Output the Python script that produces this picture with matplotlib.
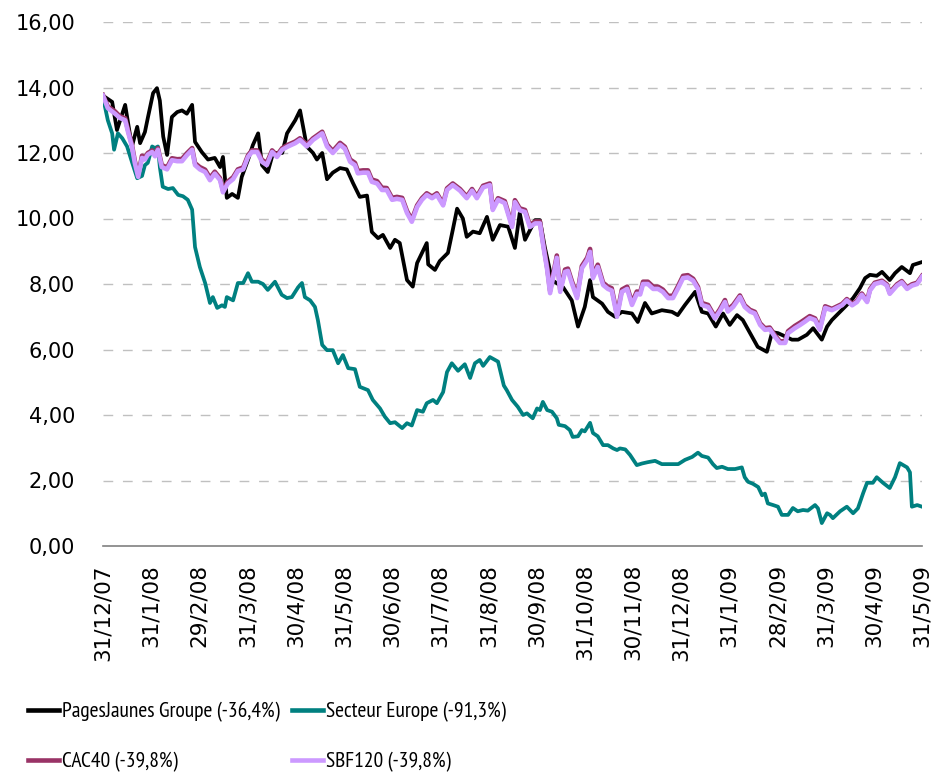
import matplotlib
matplotlib.use('Agg')
import matplotlib.pyplot as plt
from matplotlib.lines import Line2D


# month index since 31/12/07 (one unit = one month on the category axis)
month_labels = ['31/12/07', '31/1/08', '29/2/08', '31/3/08', '30/4/08', '31/5/08',
                '30/6/08', '31/7/08', '31/8/08', '30/9/08', '31/10/08', '30/11/08',
                '31/12/08', '31/1/09', '28/2/09', '31/3/09', '30/4/09', '31/5/09']

# PagesJaunes Groupe
pj_t = [0.00, 0.19, 0.29, 0.46, 0.60, 0.71, 0.77, 0.87, 0.93, 1.04, 1.12, 1.18, 1.25, 1.33,
        1.43, 1.54, 1.64, 1.74, 1.85, 1.91, 2.05, 2.18, 2.32, 2.43, 2.49, 2.57, 2.68, 2.80,
        2.88, 3.01, 3.11, 3.22, 3.30, 3.42, 3.53, 3.72, 3.82, 3.99, 4.09, 4.23, 4.36, 4.44,
        4.55, 4.65, 4.77, 4.92, 5.06, 5.19, 5.33, 5.48, 5.58, 5.71, 5.81, 5.96, 6.06, 6.16,
        6.31, 6.43, 6.52, 6.72, 6.75, 6.89, 6.99, 7.16, 7.26, 7.35, 7.47, 7.55, 7.68, 7.82,
        7.97, 8.09, 8.24, 8.41, 8.55, 8.65, 8.76, 8.97, 9.07, 9.17, 9.32, 9.55, 9.73, 9.86,
        10.00, 10.11, 10.17, 10.36, 10.48, 10.63, 10.77, 10.98, 11.10, 11.25, 11.39, 11.60,
        11.81, 11.93, 12.08, 12.29, 12.43, 12.56, 12.72, 12.87, 13.01, 13.16, 13.28, 13.43,
        13.59, 13.78, 13.89, 14.01, 14.16, 14.30, 14.43, 14.61, 14.74, 14.92, 15.03, 15.13,
        15.30, 15.44, 15.57, 15.71, 15.82, 15.92, 16.06, 16.17, 16.33, 16.44, 16.58, 16.75,
        16.81, 17.00]
pj = [13.75, 13.56, 12.70, 13.47, 12.20, 12.80, 12.30, 12.64, 13.07, 13.83, 13.98, 13.60, 12.50,
      11.94, 13.10, 13.25, 13.30, 13.20, 13.47, 12.34, 12.03, 11.80, 11.85, 11.57, 11.88, 10.63,
      10.75, 10.63, 11.27, 11.79, 12.24, 12.60, 11.63, 11.42, 12.00, 12.00, 12.60, 13.00, 13.30,
      12.20, 12.00, 11.80, 12.00, 11.20, 11.40, 11.54, 11.50, 11.08, 10.66, 10.70, 9.59, 9.40,
      9.50, 9.10, 9.35, 9.25, 8.12, 7.92, 8.64, 9.25, 8.60, 8.43, 8.70, 8.95, 9.65, 10.30, 10.00,
      9.44, 9.60, 9.55, 10.05, 9.35, 9.80, 9.75, 9.10, 10.17, 9.35, 9.95, 9.95, 9.13, 8.12, 7.90,
      7.50, 6.70, 7.30, 8.12, 7.60, 7.40, 7.15, 7.00, 7.15, 7.10, 6.84, 7.42, 7.10, 7.20, 7.15,
      7.05, 7.36, 7.76, 7.15, 7.10, 6.70, 7.10, 6.75, 7.05, 6.90, 6.50, 6.08, 5.93, 6.53, 6.50,
      6.40, 6.30, 6.30, 6.45, 6.65, 6.30, 6.70, 6.90, 7.15, 7.36, 7.57, 7.87, 8.18, 8.28, 8.25,
      8.37, 8.12, 8.33, 8.52, 8.33, 8.58, 8.67]

# Secteur Europe
sect_t = [0.00, 0.10, 0.19, 0.23, 0.31, 0.40, 0.50, 0.60, 0.71, 0.81, 0.87, 0.93, 1.02, 1.08,
          1.14, 1.18, 1.24, 1.35, 1.45, 1.56, 1.66, 1.76, 1.85, 1.91, 2.01, 2.12, 2.22, 2.28,
          2.37, 2.47, 2.53, 2.57, 2.70, 2.80, 2.91, 3.01, 3.09, 3.22, 3.32, 3.42, 3.57, 3.71,
          3.82, 3.92, 4.05, 4.13, 4.19, 4.30, 4.40, 4.46, 4.55, 4.65, 4.77, 4.88, 4.98, 5.09,
          5.23, 5.33, 5.50, 5.60, 5.75, 5.85, 5.96, 6.06, 6.21, 6.31, 6.41, 6.52, 6.64, 6.72,
          6.85, 6.93, 7.06, 7.14, 7.24, 7.37, 7.51, 7.62, 7.72, 7.82, 7.89, 8.03, 8.20, 8.32,
          8.38, 8.49, 8.61, 8.72, 8.80, 8.92, 9.01, 9.07, 9.13, 9.22, 9.32, 9.42, 9.46, 9.59,
          9.69, 9.75, 9.86, 9.94, 10.00, 10.11, 10.17, 10.27, 10.38, 10.48, 10.59, 10.67,
          10.73, 10.84, 10.94, 11.08, 11.19, 11.31, 11.46, 11.60, 11.73, 11.94, 12.08, 12.23,
          12.35, 12.43, 12.56, 12.66, 12.74, 12.85, 12.97, 13.12, 13.26, 13.32, 13.39, 13.49,
          13.60, 13.68, 13.74, 13.80, 13.91, 14.01, 14.09, 14.22, 14.32, 14.42, 14.53, 14.63,
          14.78, 14.84, 14.92, 15.03, 15.09, 15.15, 15.30, 15.44, 15.57, 15.67, 15.78, 15.86,
          15.98, 16.06, 16.19, 16.33, 16.44, 16.54, 16.69, 16.75, 16.79, 16.90, 17.00]
sect = [13.70, 13.00, 12.60, 12.10, 12.60, 12.45, 12.20, 11.73, 11.23, 11.30, 11.63, 11.70, 12.20,
        12.15, 12.20, 11.57, 10.97, 10.90, 10.93, 10.72, 10.68, 10.57, 10.27, 9.13, 8.52, 8.03,
        7.42, 7.60, 7.27, 7.35, 7.30, 7.60, 7.50, 8.03, 8.03, 8.33, 8.07, 8.07, 8.00, 7.82, 8.07,
        7.67, 7.57, 7.60, 7.90, 8.03, 7.60, 7.50, 7.30, 6.90, 6.14, 5.98, 5.98, 5.58, 5.83, 5.43,
        5.40, 4.86, 4.76, 4.46, 4.20, 3.95, 3.75, 3.78, 3.60, 3.75, 3.68, 4.15, 4.10, 4.36, 4.46,
        4.36, 4.70, 5.31, 5.58, 5.35, 5.55, 5.13, 5.58, 5.68, 5.50, 5.77, 5.63, 4.90, 4.76, 4.46,
        4.25, 4.00, 4.05, 3.90, 4.20, 4.15, 4.40, 4.15, 4.10, 3.90, 3.70, 3.66, 3.54, 3.33, 3.35,
        3.54, 3.50, 3.76, 3.45, 3.35, 3.08, 3.08, 2.98, 2.93, 2.98, 2.95, 2.78, 2.47, 2.52, 2.56,
        2.60, 2.50, 2.50, 2.50, 2.63, 2.72, 2.85, 2.75, 2.70, 2.50, 2.38, 2.42, 2.35, 2.35, 2.40,
        2.10, 1.96, 1.90, 1.80, 1.55, 1.60, 1.30, 1.25, 1.20, 0.95, 0.95, 1.16, 1.06, 1.10, 1.08,
        1.25, 1.15, 0.70, 1.00, 0.95, 0.85, 1.06, 1.20, 1.00, 1.15, 1.62, 1.93, 1.93, 2.10, 1.93,
        1.77, 2.10, 2.53, 2.40, 2.25, 1.20, 1.25, 1.20]

# CAC40 and SBF120 share the same dates
idx_t = [0.00, 0.10, 0.25, 0.35, 0.46, 0.52, 0.60, 0.66, 0.73, 0.81, 0.87, 0.93, 1.02, 1.08,
         1.14, 1.22, 1.33, 1.43, 1.54, 1.64, 1.74, 1.85, 1.91, 2.01, 2.12, 2.22, 2.32, 2.43,
         2.49, 2.59, 2.70, 2.80, 2.91, 3.01, 3.09, 3.20, 3.30, 3.40, 3.51, 3.61, 3.72, 3.84,
         3.99, 4.09, 4.23, 4.36, 4.55, 4.65, 4.77, 4.92, 5.02, 5.13, 5.23, 5.29, 5.40, 5.50,
         5.58, 5.69, 5.79, 5.89, 6.00, 6.10, 6.21, 6.31, 6.41, 6.52, 6.62, 6.72, 6.83, 6.93,
         7.06, 7.14, 7.26, 7.41, 7.55, 7.66, 7.76, 7.89, 8.03, 8.09, 8.20, 8.34, 8.49, 8.55,
         8.65, 8.76, 8.86, 8.97, 9.07, 9.13, 9.22, 9.28, 9.42, 9.49, 9.59, 9.65, 9.73, 9.84,
         9.94, 10.05, 10.11, 10.17, 10.27, 10.38, 10.48, 10.56, 10.67, 10.77, 10.88, 10.98,
         11.08, 11.15, 11.21, 11.31, 11.42, 11.52, 11.62, 11.73, 11.83, 11.93, 12.04, 12.14,
         12.25, 12.35, 12.43, 12.56, 12.70, 12.80, 12.91, 12.97, 13.08, 13.22, 13.32, 13.43,
         13.53, 13.64, 13.74, 13.84, 13.95, 14.05, 14.16, 14.22, 14.36, 14.47, 14.57, 14.67,
         14.78, 14.88, 14.99, 15.13, 15.23, 15.34, 15.44, 15.55, 15.65, 15.75, 15.86, 15.92,
         16.02, 16.17, 16.27, 16.33, 16.48, 16.58, 16.69, 16.79, 16.90, 17.00]
sbf = [13.75, 13.37, 13.20, 13.07, 13.00, 12.64, 12.20, 11.70, 11.27, 11.85, 11.80, 11.95, 12.03,
       11.90, 12.10, 11.57, 11.50, 11.78, 11.75, 11.75, 11.93, 12.10, 11.63, 11.50, 11.42, 11.17,
       11.37, 11.17, 10.80, 11.07, 11.20, 11.45, 11.50, 11.88, 12.03, 12.03, 11.73, 11.63, 12.03,
       11.88, 12.10, 12.20, 12.30, 12.40, 12.20, 12.40, 12.60, 12.20, 12.00, 12.25, 12.13, 11.73,
       11.63, 11.38, 11.40, 11.40, 11.12, 11.07, 10.87, 10.87, 10.57, 10.60, 10.57, 10.17, 9.90,
       10.35, 10.57, 10.72, 10.62, 10.72, 10.40, 10.87, 11.02, 10.85, 10.62, 10.85, 10.62, 10.95,
       11.02, 10.26, 10.57, 10.47, 9.74, 10.50, 10.25, 10.20, 9.74, 9.85, 9.85, 9.25, 8.43, 7.72,
       8.80, 7.76, 8.37, 8.40, 8.03, 7.57, 8.48, 8.73, 8.98, 8.18, 8.52, 7.97, 7.85, 7.80, 7.00,
       7.76, 7.85, 7.36, 7.70, 7.68, 8.00, 8.00, 7.85, 7.85, 7.76, 7.57, 7.57, 7.85, 8.18, 8.20,
       8.10, 7.85, 7.36, 7.30, 6.95, 7.16, 7.45, 7.16, 7.30, 7.60, 7.30, 7.16, 7.10, 6.75, 6.60,
       6.62, 6.38, 6.20, 6.20, 6.50, 6.65, 6.75, 6.85, 6.96, 6.90, 6.60, 7.27, 7.20, 7.27, 7.35,
       7.50, 7.35, 7.45, 7.67, 7.45, 7.80, 8.00, 8.06, 7.95, 7.70, 7.95, 8.05, 7.85, 7.95, 8.00,
       8.22]
cac = [13.77, 13.42, 13.27, 13.12, 13.06, 12.70, 12.26, 11.76, 11.33, 11.92, 11.86, 12.00, 12.08,
       11.96, 12.15, 11.63, 11.56, 11.84, 11.81, 11.82, 11.99, 12.15, 11.69, 11.57, 11.49, 11.24,
       11.43, 11.23, 10.86, 11.13, 11.26, 11.50, 11.56, 11.93, 12.08, 12.08, 11.79, 11.70, 12.08,
       11.93, 12.15, 12.25, 12.35, 12.45, 12.26, 12.45, 12.65, 12.26, 12.06, 12.31, 12.19, 11.80,
       11.70, 11.45, 11.47, 11.47, 11.19, 11.14, 10.94, 10.93, 10.63, 10.66, 10.63, 10.23, 9.96,
       10.40, 10.62, 10.77, 10.67, 10.77, 10.45, 10.92, 11.07, 10.90, 10.67, 10.90, 10.67, 11.00,
       11.07, 10.32, 10.62, 10.53, 9.80, 10.56, 10.31, 10.26, 9.80, 9.91, 9.91, 9.31, 8.50, 7.79,
       8.87, 7.83, 8.44, 8.47, 8.10, 7.64, 8.55, 8.80, 9.07, 8.25, 8.59, 8.04, 7.92, 7.87, 7.07,
       7.83, 7.92, 7.43, 7.77, 7.75, 8.07, 8.07, 7.92, 7.92, 7.83, 7.64, 7.64, 7.92, 8.25, 8.27,
       8.16, 7.91, 7.42, 7.36, 7.00, 7.22, 7.51, 7.22, 7.36, 7.65, 7.35, 7.21, 7.15, 6.80, 6.65,
       6.67, 6.43, 6.25, 6.25, 6.56, 6.72, 6.82, 6.92, 7.02, 6.95, 6.65, 7.32, 7.24, 7.31, 7.39,
       7.54, 7.39, 7.49, 7.71, 7.49, 7.84, 8.04, 8.10, 7.99, 7.74, 7.99, 8.09, 7.89, 7.99, 8.04,
       8.25]

colors = {
    'pj': '#000000',
    'sect': '#008080',
    'cac': '#993366',
    'sbf': '#CC99FF',
}

plt.rcParams['font.family'] = 'DejaVu Sans'
fig = plt.figure(figsize=(9.32, 7.76), dpi=100)
ax = fig.add_axes([103 / 932, 1 - 546 / 776, 819 / 932, 524 / 776])

ax.plot(pj_t, pj, color=colors['pj'], linewidth=2.7, solid_joinstyle='round')
ax.plot(sect_t, sect, color=colors['sect'], linewidth=2.7, solid_joinstyle='round')
ax.plot(idx_t, cac, color=colors['cac'], linewidth=3.3, solid_joinstyle='round')
ax.plot(idx_t, sbf, color=colors['sbf'], linewidth=3.3, solid_joinstyle='round')

ax.set_xlim(0, 17)
ax.set_ylim(0, 16)

# dashed horizontal grid, axis line only at the bottom
for v in range(2, 17, 2):
    ax.axhline(v, color='#C0C0C0', linewidth=1, linestyle=(0, (7, 7)), zorder=0)
for side in ['top', 'right', 'left']:
    ax.spines[side].set_visible(False)
ax.spines['bottom'].set_color('#808080')
ax.spines['bottom'].set_linewidth(1.2)

ax.set_yticks(range(0, 17, 2))
ax.set_yticklabels(['{:.2f}'.format(v).replace('.', ',') for v in range(0, 17, 2)],
                   family='DejaVu Sans')
ax.set_xticks(range(len(month_labels)))
ax.set_xticklabels(month_labels, rotation=90, family='DejaVu Sans')
ax.tick_params(axis='y', length=0, pad=20, labelsize=15, labelcolor='#000000')
ax.tick_params(axis='x', length=0, pad=13, labelsize=15.5, labelcolor='#000000')

handles = [
    Line2D([], [], color=colors['pj'], linewidth=3.3),
    Line2D([], [], color=colors['cac'], linewidth=3.3),
    Line2D([], [], color=colors['sect'], linewidth=3.3),
    Line2D([], [], color=colors['sbf'], linewidth=3.3),
]
names = ['PagesJaunes Groupe (-36,4%)', 'CAC40 (-39,8%)',
         'Secteur Europe (-91,3%)', 'SBF120 (-39,8%)']
narrow = ['Liberation Sans Narrow', 'Arial Narrow', 'PT Sans Narrow', 'Roboto Condensed',
          'Archivo Narrow', 'Open Sans Condensed', 'DejaVu Sans']
fig.legend(handles, names, loc='upper left', bbox_to_anchor=(28 / 932, 1 - 702 / 776),
           ncol=2, frameon=False, borderpad=0, borderaxespad=0,
           handlelength=1.45, handletextpad=0.15, columnspacing=0.55, labelspacing=1.4,
           prop={'family': narrow, 'size': 15.5})

plt.savefig('out.png', dpi=100)
